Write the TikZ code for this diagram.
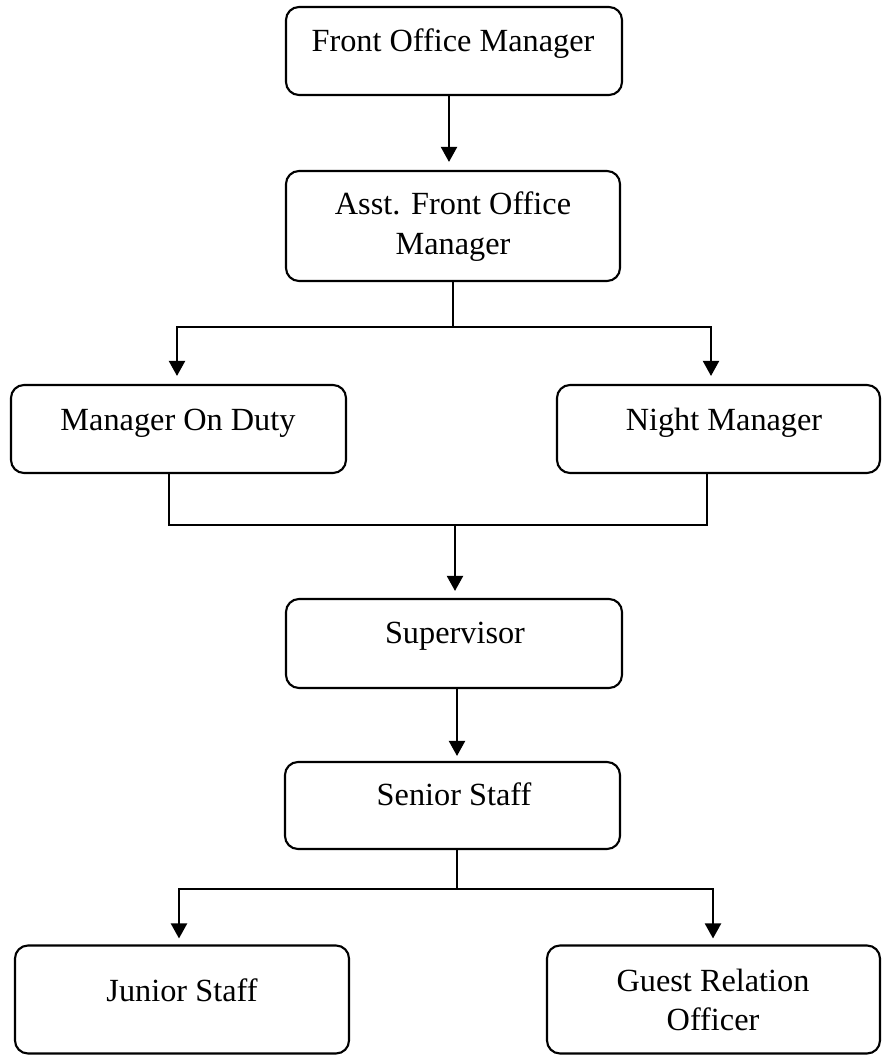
\documentclass[tikz,border=0pt]{standalone}
\usepackage{fontspec}
\setmainfont{Liberation Serif}
\usetikzlibrary{arrows.meta}
\begin{document}
\begin{tikzpicture}[x=1pt,y=-1pt,
  box/.style={draw, line width=2.1pt, rounded corners=13pt, inner sep=0pt},
  lbl/.style={font=\fontsize{32.3}{38}\selectfont, inner sep=0pt, anchor=base},
  conn/.style={line width=2.1pt},
  arr/.style={conn, -{Triangle[width=16pt,length=15pt]}}]
\useasboundingbox (0,0) rectangle (883,1056);
% boxes
\node[box, minimum width=336pt, minimum height=88pt]  (fom) at (454,51) {};
\node[box, minimum width=334pt, minimum height=110pt] (afom) at (453,226) {};
\node[box, minimum width=335pt, minimum height=88pt]  (mod) at (178.5,429) {};
\node[box, minimum width=323pt, minimum height=88pt]  (nm) at (718.5,429) {};
\node[box, minimum width=336pt, minimum height=89pt]  (sup) at (454,643.5) {};
\node[box, minimum width=335pt, minimum height=87pt]  (sen) at (452.5,805.5) {};
\node[box, minimum width=334pt, minimum height=108pt] (jun) at (182,999.5) {};
\node[box, minimum width=333pt, minimum height=108pt] (gro) at (713.5,999.5) {};
% labels
\node[lbl] (fomt) at (453,52) {Front Office Manager};
\node[lbl] (afomt1) at (453,215) {Asst. Front Office};
\node[lbl] (afomt2) at (453,255) {Manager};
\node[lbl] (modt) at (178,430) {Manager On Duty};
\node[lbl] (nmt) at (724,430) {Night Manager};
\node[lbl] (supt) at (455,643) {Supervisor};
\node[lbl] (sent) at (454,805) {Senior Staff};
\node[lbl] (junt) at (182,1001) {Junior Staff};
\node[lbl] (grot1) at (713,991) {Guest Relation};
\node[lbl] (grot2) at (713,1030) {Officer};
% junction points
\coordinate (ja) at (453,327);
\coordinate (jb) at (455,525);
\coordinate (jc) at (457,889);
% connectors
\draw[arr, shorten >=8pt] ([xshift=-5pt]fom.south) -- ([xshift=-5pt]fom.south |- afom.north);
\draw[conn] (afom.south) -- (ja);
\draw[arr, shorten >=8pt] (ja) -| ([xshift=-1.5pt]mod.north);
\draw[arr, shorten >=8pt] (ja) -| ([xshift=-7.5pt]nm.north);
\draw[conn] ([xshift=-9.5pt]mod.south) |- (jb);
\draw[conn] ([xshift=-11.5pt]nm.south) |- (jb);
\draw[arr, shorten >=7pt] (jb) -- (jb |- sup.north);
\draw[arr, shorten >=5pt] ([xshift=3pt]sup.south) -- ([xshift=3pt]sup.south |- sen.north);
\draw[conn] ([xshift=4.5pt]sen.south) -- (jc);
\draw[arr, shorten >=6pt] (jc) -| ([xshift=-3pt]jun.north);
\draw[arr, shorten >=6pt] (jc) -| ([xshift=-0.5pt]gro.north);
\end{tikzpicture}
\end{document}
